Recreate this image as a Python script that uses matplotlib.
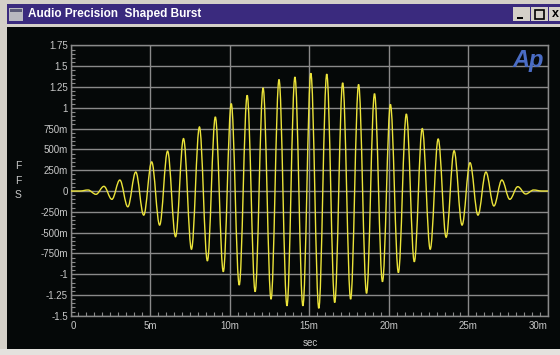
import matplotlib
matplotlib.use("Agg")
import matplotlib.pyplot as plt
from matplotlib.path import Path
from matplotlib.patches import PathPatch, Rectangle
from matplotlib.ticker import MultipleLocator, FixedLocator, FixedFormatter

plt.rcParams['font.family'] = ['Liberation Sans', 'DejaVu Sans']

# ---- data ----
# time of each extremum of the burst (ms) and its value (FFS)
peak_t = [1.1, 2.1, 3.1, 4.1, 5.1, 6.1, 7.1, 8.1, 9.1, 10.1, 11.1, 12.1, 13.1, 14.1, 15.1,
          16.1, 17.1, 18.1, 19.1, 20.1, 21.1, 22.1, 23.1, 24.1, 25.1, 26.1, 27.1, 28.1, 29.1]
peak_v = [0.012, 0.056, 0.132, 0.228, 0.35, 0.48, 0.63, 0.77, 0.89, 1.05, 1.15, 1.24, 1.34, 1.37, 1.415,
          1.405, 1.30, 1.28, 1.17, 1.04, 0.925, 0.75, 0.625, 0.484, 0.34, 0.228, 0.132, 0.052, 0.012]
trough_t = [1.6, 2.6, 3.6, 4.6, 5.6, 6.6, 7.6, 8.6, 9.6, 10.6, 11.6, 12.6, 13.6, 14.6,
            15.6, 16.6, 17.6, 18.6, 19.6, 20.6, 21.6, 22.6, 23.6, 24.6, 25.6, 26.6, 27.6, 28.6]
trough_v = [-0.04, -0.10, -0.19, -0.29, -0.41, -0.55, -0.70, -0.84, -0.97, -1.13, -1.21, -1.30, -1.38, -1.38,
            -1.41, -1.34, -1.30, -1.23, -1.09, -0.98, -0.85, -0.70, -0.556, -0.41, -0.29, -0.18, -0.10, -0.036]
quiet_t = [0.0, 0.6, 29.6, 30.0]   # flat (zero) stretches before and after the burst
quiet_v = [0.0, 0.0, 0.0, 0.0]

x_ticks = [0, 5, 10, 15, 20, 25, 30]
x_labels = ['0', '5m', '10m', '15m', '20m', '25m', '30m']
y_ticks = [-1.5, -1.25, -1.0, -0.75, -0.5, -0.25, 0.0, 0.25, 0.5, 0.75, 1.0, 1.25, 1.5, 1.75]
y_labels = ['-1.5', '-1.25', '-1', '-750m', '-500m', '-250m', '0', '250m', '500m', '750m',
            '1', '1.25', '1.5', '1.75']
title = 'Audio Precision  Shaped Burst'

# ---- figure ----
W, H = 560, 355
fig = plt.figure(figsize=(W / 100, H / 100), dpi=100)
fig.patch.set_facecolor('#050808')

def frect(x0, y0, x1, y1, color):
    # rectangle given in pixel coords from the top-left
    fig.patches.append(Rectangle((x0 / W, 1 - y1 / H), (x1 - x0) / W, (y1 - y0) / H,
                                 transform=fig.transFigure, facecolor=color,
                                 edgecolor='none', zorder=0))

frect(0, 0, W, 4, '#d4d0c8')          # top border
frect(0, 23.5, W, 26.5, '#d4d0c8')    # under the title bar
frect(0, 4, W, 23.5, '#3a2a7e')       # title bar
frect(0, 0, 7, H, '#d4d0c8')          # left border
frect(0, 349, W, H, '#e4e2de')        # bottom strip
frect(9, 8, 23, 21, '#b8b8c0')        # window icon
frect(10, 9, 22, 12, '#5a5a78')
# title-bar buttons
for bx0, bx1 in [(512.5, 530), (531, 547.5), (549, 566)]:
    frect(bx0, 7.3, bx1, 21.3, '#d4d0c8')
frect(516.5, 17, 523, 18.6, '#000000')
fig.patches.append(Rectangle((535 / W, 1 - 18.6 / H), 9 / W, 8.5 / H, transform=fig.transFigure,
                             facecolor='none', edgecolor='#000000', lw=1.2, zorder=1))
fig.text(552 / W, 1 - 14.3 / H, 'x', color='#000000', fontsize=9, fontweight='bold',
         ha='left', va='center')
fig.text(28 / W, 1 - 14.3 / H, title, color='white', fontsize=8.5, fontweight='bold',
         ha='left', va='center')

# ---- axes ----
x0p, x1p, y0p, y1p = 70.5, 548.0, 45.4, 315.8
ax = fig.add_axes([x0p / W, 1 - y1p / H, (x1p - x0p) / W, (y1p - y0p) / H])
ax.set_facecolor('#050808')
ax.set_xlim(0, 30)
ax.set_ylim(-1.5, 1.75)

gray = '#8a8a8a'
for s in ax.spines.values():
    s.set_color(gray)
    s.set_linewidth(1.0)

ax.xaxis.set_major_locator(FixedLocator(x_ticks))
ax.xaxis.set_major_formatter(FixedFormatter(x_labels))
ax.yaxis.set_major_locator(FixedLocator(y_ticks))
ax.yaxis.set_major_formatter(FixedFormatter(y_labels))
ax.xaxis.set_minor_locator(MultipleLocator(0.5))
ax.yaxis.set_minor_locator(MultipleLocator(0.05))
ax.tick_params(which='major', length=0, pad=2, labelsize=7, labelcolor='#c8c8c8')
ax.tick_params(which='minor', direction='in', length=3, width=0.8, color=gray)
ax.tick_params(axis='x', which='major', pad=4)
ax.grid(True, which='major', color=gray, linewidth=1.0)
ax.set_axisbelow(True)

xl = ax.get_xticklabels()
xl[0].set_horizontalalignment('left')
xl[-1].set_horizontalalignment('right')

# waveform: extrema joined by smooth half-cycle curves
pts = sorted(list(zip(quiet_t, quiet_v)) + list(zip(peak_t, peak_v)) + list(zip(trough_t, trough_v)))
k = 0.364
verts = [pts[0]]
codes = [Path.MOVETO]
for (ta, va), (tb, vb) in zip(pts[:-1], pts[1:]):
    dt = tb - ta
    if va == 0 and vb == 0:
        verts.append((tb, vb))
        codes.append(Path.LINETO)
    else:
        verts += [(ta + k * dt, va), (tb - k * dt, vb), (tb, vb)]
        codes += [Path.CURVE4] * 3
ax.add_patch(PathPatch(Path(verts, codes), facecolor='none', edgecolor='#ece43a',
                       linewidth=1.0, zorder=3))

# axis labels
fig.text(18 / W, 1 - 180.5 / H, 'F\nF\nS', color='#c8c8c8', fontsize=7.5, ha='center',
         va='center', linespacing=1.55)
fig.text(310 / W, 1 - 343.5 / H, 'sec', color='#c8c8c8', fontsize=7, ha='center', va='center')

# logo
ax.text(0.958, 0.945, 'Ap', transform=ax.transAxes, color='#4a6cc4', fontsize=17,
        fontweight='bold', style='italic', ha='center', va='center', zorder=4)

fig.savefig('out.png', dpi=100, facecolor=fig.get_facecolor())
